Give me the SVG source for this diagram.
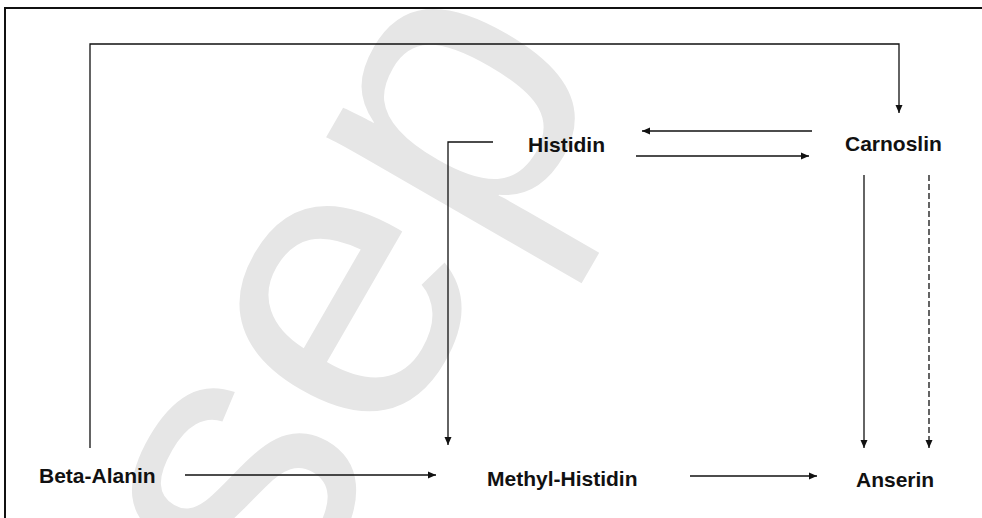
<svg xmlns="http://www.w3.org/2000/svg" width="982" height="518" viewBox="0 0 982 518">
<style>
.lbl{font-family:"Liberation Sans",Arial,sans-serif;font-weight:bold;font-size:21px;fill:#111}
.c{fill:none;stroke:#111;stroke-width:1.3}
.d{stroke-dasharray:6,3}
.wm{font-family:"Liberation Sans",Arial,sans-serif;font-size:400px;fill:#e6e6e6}
</style>
<defs>
<marker id="ah" markerUnits="userSpaceOnUse" markerWidth="9" markerHeight="8" refX="8" refY="4" orient="auto">
<path d="M0,0.5 L8,4 L0,7.5 z" fill="#111"/>
</marker>
</defs>
<rect x="0" y="0" width="982" height="518" fill="#fff"/>
<text class="wm" transform="translate(285,631) rotate(-60)">sep</text>
<rect x="5" y="8" width="1000" height="600" fill="none" stroke="#111" stroke-width="2"/>
<g id="connectors">
<path class="c" d="M90,448 V44 H899 V113" marker-end="url(#ah)"/>
<path class="c" d="M812,131 H642" marker-end="url(#ah)"/>
<path class="c" d="M636,156 H809" marker-end="url(#ah)"/>
<path class="c" d="M493,142 H448 V445" marker-end="url(#ah)"/>
<path class="c" d="M864,175 V448" marker-end="url(#ah)"/>
<path class="c d" d="M929,175 V448" marker-end="url(#ah)"/>
<path class="c" d="M185,475 H436" marker-end="url(#ah)"/>
<path class="c" d="M690,476 H817" marker-end="url(#ah)"/>
</g>
<g id="histidin"><text class="lbl" x="528" y="152">Histidin</text></g>
<g id="carnoslin"><text class="lbl" x="845" y="151">Carnoslin</text></g>
<g id="beta-alanin"><text class="lbl" x="39" y="483">Beta-Alanin</text></g>
<g id="methyl-histidin"><text class="lbl" x="487" y="486">Methyl-Histidin</text></g>
<g id="anserin"><text class="lbl" x="856" y="487">Anserin</text></g>
</svg>
